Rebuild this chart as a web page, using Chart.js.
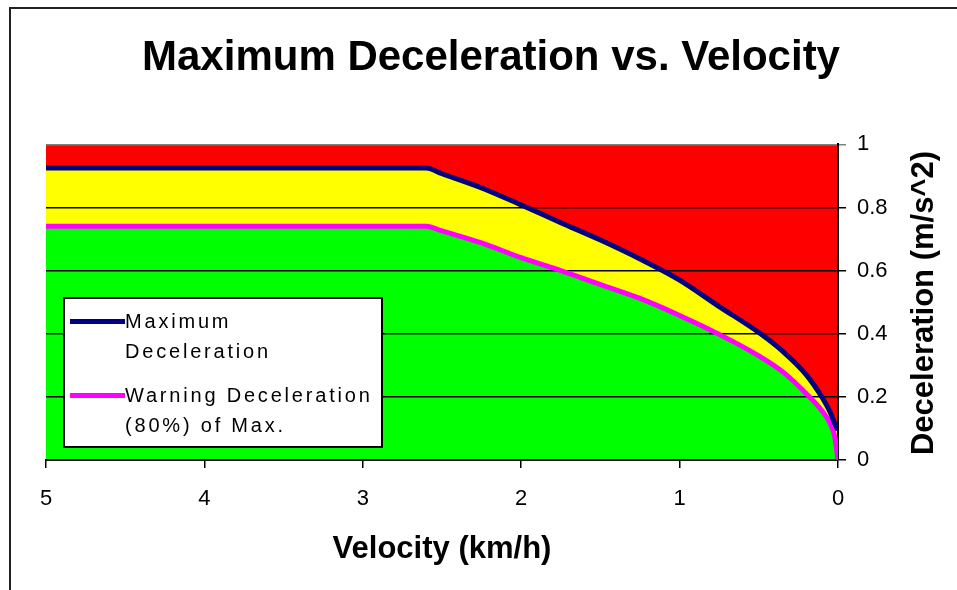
<!DOCTYPE html>
<html>
<head>
<meta charset="utf-8">
<script src="https://cdn.jsdelivr.net/npm/chart.js@4"></script>
<style>
  body { margin: 0; background: #fff; }
  #wrap { position: relative; width: 957px; height: 590px; }
  #frame { position: absolute; left: 9px; top: 7px; width: 960px; height: 600px;
           border-left: 2px solid #222; border-top: 2px solid #222; pointer-events: none; }
  #yTitle { position: absolute; left: 723px; top: 285px; width: 400px; line-height: 36px;
            text-align: center; transform: rotate(-90deg); transform-origin: 200px 18px;
            font: bold 31px "Liberation Sans", Arial, sans-serif; color: #000; white-space: nowrap; }
  #legend { position: absolute; left: 63px; top: 297px; width: 320px; height: 151px;
            box-sizing: border-box; border: 2px solid #000; background: #fff;
            font: 20px "Liberation Sans", Arial, sans-serif; letter-spacing: 2.8px; color: #000; }
  .sw { position: absolute; left: 5px; width: 55px; height: 5px; }
  .lt { position: absolute; left: 60px; line-height: 30px; white-space: nowrap; }
</style>
</head>
<body>
<div id="wrap">
  <canvas id="decelChart" width="957" height="590"></canvas>
  <div id="frame"></div>
  <div id="yTitle">Deceleration (m/s^2)</div>
  <div id="legend">
    <div class="sw" style="top:20px;background:#000080"></div>
    <div class="lt" style="top:7px">Maximum<br>Deceleration</div>
    <div class="sw" style="top:94px;background:#ff00ff"></div>
    <div class="lt" style="top:81px">Warning Deceleration<br>(80%) of Max.</div>
  </div>
</div>
<script>
    // Data
    const velocity = [5, 4, 3, 2.6, 2.5, 2.25, 2.0, 1.75, 1.5, 1.25, 1.0, 0.75, 0.5, 0.35, 0.2, 0.1, 0.05, 0.02, 0];
    const maxDecel = [0.925, 0.925, 0.925, 0.925, 0.907, 0.862, 0.808, 0.752, 0.697, 0.637, 0.570, 0.486, 0.404, 0.345, 0.270, 0.198, 0.152, 0.115, 0.095];
    const warnDecel = [0.741, 0.741, 0.741, 0.741, 0.726, 0.688, 0.641, 0.600, 0.556, 0.512, 0.458, 0.398, 0.330, 0.280, 0.210, 0.155, 0.116, 0.072, 0.0];
    const topEdge = [1, 1]; // red "danger" zone runs up to the top of the axis
    const topEdgeVel = [5, 0];
    const xTicks = [0, 1, 2, 3, 4, 5];
    const yTicks = [0, 0.2, 0.4, 0.6, 0.8, 1];

    const pts = (xs, ys) => xs.map((x, i) => ({ x: x, y: ys[i] }));

    Chart.defaults.font.family = '"Liberation Sans", Arial, sans-serif';
    Chart.defaults.color = "#000";

    const ctx = document.getElementById("decelChart").getContext("2d");

    const chart = new Chart(ctx, {
      type: "line",
      data: {
        datasets: [
          {
            label: "Danger",
            data: pts(topEdgeVel, topEdge),
            borderWidth: 0,
            pointRadius: 0,
            backgroundColor: "#ff0000",
            fill: "+1",
          },
          {
            label: "Maximum Deceleration",
            data: pts(velocity, maxDecel),
            borderColor: "#000080",
            borderWidth: 5,
            pointRadius: 0,
            cubicInterpolationMode: "monotone",
            backgroundColor: "#ffff00",
            fill: "+1",
          },
          {
            label: "Warning Deceleration (80%) of Max.",
            data: pts(velocity, warnDecel),
            borderColor: "#ff00ff",
            borderWidth: 5,
            pointRadius: 0,
            cubicInterpolationMode: "monotone",
            backgroundColor: "#00ff00",
            fill: "origin",
          },
        ],
      },
      options: {
        responsive: false,
        animation: false,
        layout: { padding: { left: 25, right: 0, top: 0, bottom: 0 } },
        plugins: {
          legend: { display: false },
          tooltip: { enabled: false },
          filler: { drawTime: "beforeDraw" },
          title: {
            display: true,
            text: "Maximum Deceleration vs. Velocity",
            font: { size: 42, weight: "bold" },
            color: "#000",
            padding: { top: 33, bottom: 61 },
          },
        },
        scales: {
          x: {
            type: "linear",
            reverse: true,
            min: 0,
            max: 5,
            afterBuildTicks: (s) => { s.ticks = xTicks.map((v) => ({ value: v })); },
            afterFit: (s) => { s.height = 130; },
            ticks: { font: { size: 22 }, padding: 18, maxRotation: 0, callback: (v) => String(v) },
            grid: { drawOnChartArea: false, drawTicks: true, tickLength: 8, color: "#000", lineWidth: 1.5 },
            border: { display: true, color: "#000", width: 2 },
            title: {
              display: true,
              text: "Velocity (km/h)",
              font: { size: 31, weight: "bold" },
              padding: { top: 0, bottom: 22 },
            },
          },
          yl: {
            position: "left",
            min: 0,
            max: 1,
            ticks: { display: false },
            grid: { display: false },
            border: { display: false },
            afterFit: (s) => { s.width = 21; },
          },
          y: {
            position: "right",
            min: 0,
            max: 1,
            afterBuildTicks: (s) => { s.ticks = yTicks.map((v) => ({ value: v })); },
            afterFit: (s) => { s.width = 119; },
            ticks: { font: { size: 22 }, padding: 11, callback: (v) => String(v) },
            grid: {
              color: (c) => (c.tick && c.tick.value === 1 ? "#808080" : "#000"),
              lineWidth: 1.5,
              tickLength: 8,
            },
            border: { display: true, color: "#000", width: 2 },
          },
        },
      },
    });
</script>
</body>
</html>
